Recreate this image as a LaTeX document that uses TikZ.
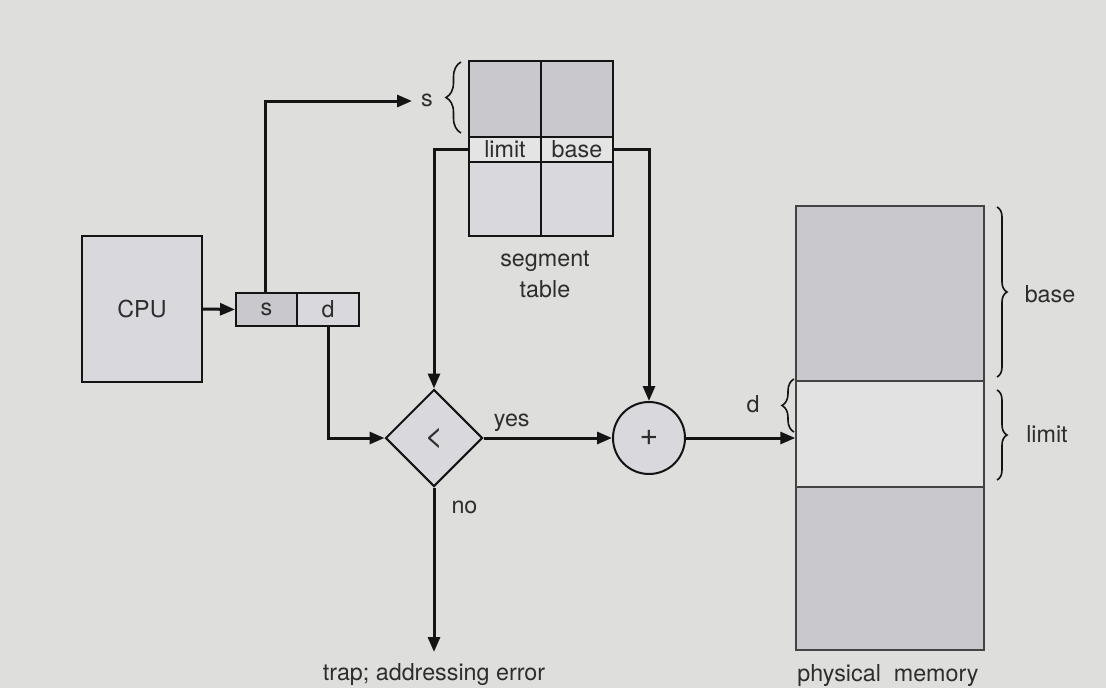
\documentclass[tikz,border=0pt]{standalone}
\usepackage{fontspec}
\setmainfont{TeX Gyre Heros}
\usetikzlibrary{arrows.meta,shapes.geometric,decorations.pathreplacing}
\definecolor{bgcol}{RGB}{222,222,220}
\definecolor{lightfill}{RGB}{216,216,221}
\definecolor{darkfill}{RGB}{200,200,205}
\definecolor{rowfill}{RGB}{228,228,228}
\definecolor{midfill}{RGB}{226,226,227}
\definecolor{txt}{RGB}{45,45,45}
\definecolor{ln}{RGB}{20,20,20}
\tikzset{
  lbl/.style={font=\fontsize{23.3}{27}\selectfont, text=txt, inner sep=0pt},
  sym/.style={font=\fontsize{32}{34}\selectfont, text=txt},
  boxthick/.style={draw=ln, line width=2pt, inner sep=0pt},
  memblock/.style={draw=ln!80, line width=1.5pt, inner sep=0pt},
  conn/.style={draw=ln, line width=3pt, -{Triangle[length=15pt,width=12pt]}},
  brc/.style={draw=ln, line width=1.6pt, decorate, decoration={brace, amplitude=#1}},
  brc/.default=10pt,
}
\begin{document}
\begin{tikzpicture}[x=1pt,y=-1pt]
\fill[bgcol] (0,0) rectangle (1106,688);
\useasboundingbox (0,0) rectangle (1106,688);

% CPU
\node[boxthick, fill=lightfill, minimum width=120pt, minimum height=146pt, lbl] (cpu) at (142,309) {CPU};
% address register
\node[boxthick, fill=darkfill, minimum width=61pt, minimum height=33pt, lbl] (s) at (266.5,309.5) {s};
\node[boxthick, fill=lightfill, minimum width=62pt, minimum height=33pt, lbl] (d) at (328,309.5) {d};

% segment table
\node[boxthick, fill=darkfill, minimum width=72pt, minimum height=76pt] (t1) at (505,99) {};
\node[boxthick, fill=darkfill, minimum width=72pt, minimum height=76pt] (t2) at (577,99) {};
\node[boxthick, fill=rowfill, minimum width=72pt, minimum height=25pt, lbl] (lim) at (505,149.5) {limit};
\node[boxthick, fill=rowfill, minimum width=72pt, minimum height=25pt, lbl] (bas) at (577,149.5) {base};
\node[boxthick, fill=lightfill, minimum width=72pt, minimum height=74pt] (t5) at (505,199) {};
\node[boxthick, fill=lightfill, minimum width=72pt, minimum height=74pt] (t6) at (577,199) {};
\node[lbl, align=center] (segt) at (545,274) {segment\\[4pt]table};

% s label and brace
\node[lbl] (slbl) at (427,100) {s};
\coordinate (sb1) at (461,133);
\coordinate (sb2) at (461,62);
\draw[brc=15pt] (sb1) -- (sb2);

% comparator and adder
\node[diamond, boxthick, fill=lightfill, minimum width=97pt, minimum height=97pt, aspect=1, sym] (cmp) at (434,438) {<};
\node[circle, boxthick, fill=lightfill, minimum size=72pt, sym] (add) at (649,438) {+};

% physical memory
\node[memblock, fill=darkfill, minimum width=188pt, minimum height=175pt] (m1) at (890,293.5) {};
\node[memblock, fill=midfill, minimum width=188pt, minimum height=106pt] (m2) at (890,434) {};
\node[memblock, fill=darkfill, minimum width=188pt, minimum height=163pt] (m3) at (890,568.5) {};
\node[lbl] (pm) at (888,676) {physical\ \ memory};

% braces memory
\coordinate (bb1) at (997,207);
\coordinate (bb2) at (997,377);
\draw[brc] (bb1) -- (bb2);
\node[lbl] (baselbl) at (1050,294) {base};
\coordinate (lb1) at (997,390);
\coordinate (lb2) at (997,480);
\draw[brc] (lb1) -- (lb2);
\node[lbl] (limlbl) at (1047,434) {limit};
\coordinate (db1) at (794,432);
\coordinate (db2) at (794,379);
\draw[brc=12pt] (db1) -- (db2);
\node[lbl] (dlbl) at (753,404) {d};

% trap
\node[lbl] (trap) at (434,675) {trap; addressing error};
\coordinate (trapend) at (434,652);

% connectors
\draw[conn] (cpu.east) -- (s.west);
\coordinate (sc) at (265,101);
\draw[conn] (s.north -| sc) -- (sc) -- (412,101);
\draw[conn] (lim.west) -| (cmp.north);
\draw[conn] (bas.east) -| (add.north);
\draw[conn] (d.south) |- (cmp.west);
\draw[conn] (cmp.east) -- node[lbl, above=5pt, pos=0.22] (yes) {yes} (add.west);
\draw[conn] (cmp.south) -- node[lbl, right=16pt, pos=0.12] (no) {no} (trapend);
\draw[conn] (add.east) -- (add.east -| m2.west);
\end{tikzpicture}
\end{document}
